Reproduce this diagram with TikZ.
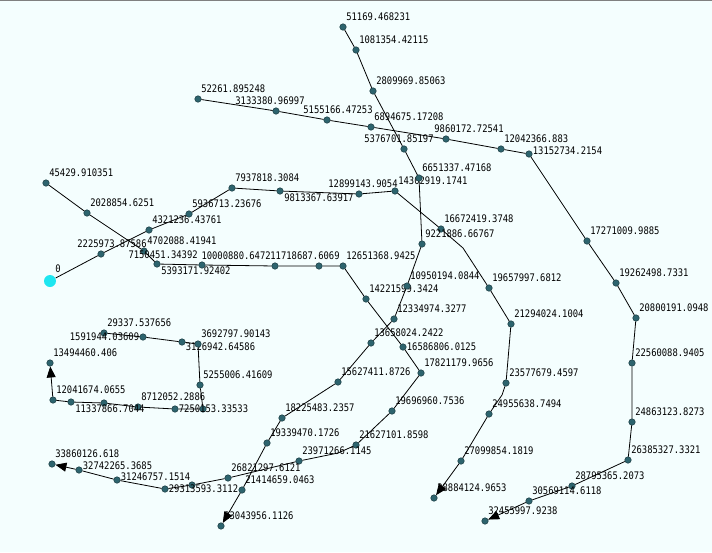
\documentclass[tikz,border=0pt]{standalone}
\usepackage{fontspec}
\setmonofont[FakeStretch=0.85]{DejaVu Sans Mono}
\usepackage{tikz}
\usetikzlibrary{arrows.meta}
\definecolor{bgc}{RGB}{244,254,254}
\definecolor{dotc}{RGB}{45,100,110}
\definecolor{startc}{RGB}{30,230,240}
\newcommand\lblfont{\ttfamily\fontsize{10.4}{12}\selectfont}

\begin{document}
\begin{tikzpicture}[x=1pt,y=-1pt,line width=0.8pt,
  stn/.style={circle,fill=dotc,draw=dotc!60!black,line width=0.5pt,minimum size=6.5pt,inner sep=0pt},
  startpt/.style={circle,fill=startc,minimum size=12pt,inner sep=0pt},
  every label/.style={font=\lblfont,inner sep=0pt,text=black},
  label distance=2pt,
  ar/.style={label={[xshift=-1pt,yshift=2pt]above right:#1}},
  al/.style={label={[yshift=2pt]above left:#1}},
  br/.style={label={[yshift=2pt]below right:#1}},
  rt/.style={label={[xshift=-2pt]right:#1}},
  lf/.style={label={[xshift=2pt]left:#1}},
  route/.style={draw=black,line width=0.8pt,-{Triangle[length=11pt,width=9pt]}}]
\useasboundingbox (0,0) rectangle (712,552);
\fill[bgc] (0,0) rectangle (712,552);
\draw[gray,line width=1.4pt] (0,0.7) -- (712,0.7);

% route from 0
\node[startpt,ar=0] (a0) at (50,281){};
\node[stn,label={[xshift=11pt]above:2225973.87586}] (a1) at (101,254){};
\node[stn,ar=4321236.43761] (a2) at (149,230){};
\node[stn,ar=5936713.23676] (a3) at (189,214){};
\node[stn,ar=7937818.3084] (a4) at (232,188){};
\node[stn,br=9813367.63917] (a5) at (280,191){};
\node[stn,label={[xshift=4pt]above:12899143.9054}] (a6) at (359,194){};
\node[stn,ar=14302919.1741] (a7) at (395,191){};
\node[stn,ar=16672419.3748] (a8) at (441,229){};
\coordinate (a8x) at (463,248);
\node[stn,ar=19657997.6812] (a9) at (489,288){};
\node[stn,ar=21294024.1004] (a10) at (511,324){};
\node[stn,ar=23577679.4597] (a11) at (506,383){};
\coordinate (a11x) at (502,395);
\node[stn,ar=24955638.7494] (a12) at (489,414){};
\node[stn,ar=27099854.1819] (a13) at (461,461){};
\node[stn,ar=28884124.9653] (a14) at (434,498){};

% route from 45429
\node[stn,ar=45429.910351] (b0) at (46,183){};
\node[stn,ar=2028854.6251] (b1) at (87,213){};
\node[stn,ar=4702088.41941] (b2) at (144,251){};
\node[stn,br=5393171.92402] (b3) at (157,264){};
\node[stn,al=7150451.34392] (b4) at (202,265){};
\node[stn,al=10000880.6472] (b5) at (275,266){};
\node[stn,label={[xshift=-14pt]above:11718687.6069}] (b6) at (319,266){};
\node[stn,ar=12651368.9425] (b7) at (343,266){};
\node[stn,ar=14221599.3424] (b8) at (366,299){};
\node[stn,rt=16586806.0125] (b9) at (403,347){};
\node[stn,ar=17821179.9656] (b10) at (421,373){};
\node[stn,ar=19696960.7536] (b11) at (392,411){};
\node[stn,ar=21627101.8598] (b12) at (356,445){};
\coordinate (b12x) at (338,453);
\node[stn,ar=23971266.1145] (b13) at (299,461){};
\node[stn,ar=26821297.6121] (b14) at (228,478){};
\node[stn] (b15) at (192,485){};
\node[stn,rt=29313593.3112] (b16) at (165,489){};
\node[stn,label={[xshift=-2pt,yshift=3pt]right:31246757.1514}] (b17) at (117,480){};
\node[stn,label={[xshift=-2pt,yshift=4pt]right:32742265.3685}] (b18) at (79,470){};
\node[stn,ar=33860126.618] (b19) at (52,464){};

% route from 51169
\node[stn,ar=51169.468231] (c0) at (343,27){};
\node[stn,ar=1081354.42115] (c1) at (356,50){};
\node[stn,ar=2809969.85063] (c2) at (373,91){};
\node[stn,label={[xshift=-5pt]above:5376701.85197}] (c3) at (404,149){};
\node[stn,ar=6651337.47168] (c4) at (419,178){};
\node[stn,ar=9221886.66767] (c5) at (422,244){};
\node[stn,ar=10950194.0844] (c6) at (407,286){};
\node[stn,ar=12334974.3277] (c7) at (394,319){};
\node[stn,ar=13658024.2422] (c8) at (371,343){};
\node[stn,ar=15627411.8726] (c9) at (338,382){};
\node[stn,ar=18225483.2357] (c10) at (282,418){};
\node[stn,ar=19339470.1726] (c11) at (267,443){};
\node[stn,ar=21414659.0463] (c12) at (242,490){};
\node[stn,ar=23043956.1126] (c13) at (221,526){};

% route from 52261
\node[stn,ar=52261.895248] (d0) at (198,99){};
\node[stn,label={[xshift=-6pt]above:3133380.96997}] (d1) at (276,111){};
\node[stn,label={[xshift=11pt]above:5155166.47253}] (d2) at (327,120){};
\node[stn,ar=6894675.17208] (d3) at (371,127){};
\node[stn,label={[xshift=23pt]above:9860172.72541}] (d4) at (446,139){};
\node[stn,ar=12042366.883] (d5) at (501,149){};
\node[stn,label={[xshift=-2pt,yshift=3pt]right:13152734.2154}] (d6) at (529,154){};
\node[stn,ar=17271009.9885] (d7) at (587,241){};
\node[stn,ar=19262498.7331] (d8) at (616,283){};
\node[stn,ar=20800191.0948] (d9) at (636,318){};
\node[stn,ar=22560088.9405] (d10) at (632,363){};
\node[stn,ar=24863123.8273] (d11) at (632,422){};
\node[stn,ar=26385327.3321] (d12) at (628,460){};
\node[stn,ar=28795365.2073] (d13) at (572,486){};
\node[stn,ar=30569114.6118] (d14) at (529,501){};
\node[stn,ar=32455997.9238] (d15) at (485,521){};

% loop from 29337
\node[stn,ar=29337.537656] (e0) at (104,333){};
\node[stn,lf=1591944.03609] (e1) at (143,337){};
\node[stn,label={[xshift=-2pt,yshift=-5pt]right:3126942.64586}] (e2) at (182,342){};
\node[stn,ar=3692797.90143] (e3) at (198,344){};
\node[stn,ar=5255006.41609] (e4) at (200,385){};
\node[stn] (e5) at (203,409){};
\node[stn,rt=7250153.33533] (e6) at (175,409){};
\node[stn,ar=8712052.2886] (e7) at (138,407){};
\node[stn] (e8) at (104,403){};
\node[stn,br=11337866.7044] (e9) at (71,402){};
\node[stn,ar=12041674.0655] (e10) at (53,400){};
\node[stn,ar=13494460.406] (e11) at (50,363){};

\draw[route] (a0)--(a1)--(a2)--(a3)--(a4)--(a5)--(a6)--(a7)--(a8)--(a8x)--(a9)--(a10)--(a11)--(a11x)--(a12)--(a13)--(a14);
\draw[route] (b0)--(b1)--(b2)--(b3)--(b4)--(b5)--(b6)--(b7)--(b8)--(b9)--(b10)--(b11)--(b12)--(b12x)--(b13)--(b14)--(b15)--(b16)--(b17)--(b18)--(b19);
\draw[route] (c0)--(c1)--(c2)--(c3)--(c4)--(c5)--(c6)--(c7)--(c8)--(c9)--(c10)--(c11)--(c12)--(c13);
\draw[route] (d0)--(d1)--(d2)--(d3)--(d4)--(d5)--(d6)--(d7)--(d8)--(d9)--(d10)--(d11)--(d12)--(d13)--(d14)--(d15);
\draw[route] (e0)--(e1)--(e2)--(e3)--(e4)--(e5)--(e6)--(e7)--(e8)--(e9)--(e10)--(e11);
\end{tikzpicture}
\end{document}
